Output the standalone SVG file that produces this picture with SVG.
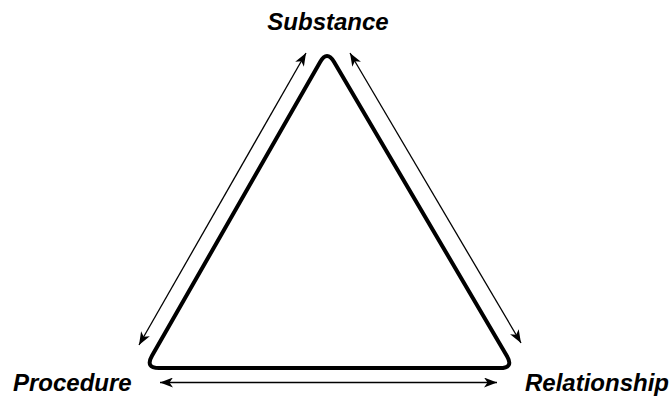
<svg xmlns="http://www.w3.org/2000/svg" width="672" height="398" viewBox="0 0 672 398">
<style>
.lbl{font-family:"Liberation Sans",Arial,sans-serif;font-weight:bold;font-style:italic;font-size:24px;fill:#000}
.arr{stroke:#000;stroke-width:1.3;fill:none;marker-start:url(#ah);marker-end:url(#ah)}
</style>
<defs>
<marker id="ah" viewBox="0 0 13 10" refX="13" refY="5" markerWidth="13" markerHeight="10" markerUnits="userSpaceOnUse" orient="auto-start-reverse">
<path d="M0,0 L13,5 L0,10 L3.5,5 Z" fill="#000"/>
</marker>
</defs>
<rect width="672" height="398" fill="#fff"/>
<g id="triangle">
<path d="M320,62.2 L152,355.8 Q145,368 159,368 L500,368 Q514,368 506.9,355.9 L334.1,62.1 Q327,50 320,62.2 Z" fill="none" stroke="#000" stroke-width="4" stroke-linejoin="round"/>
</g>
<g id="connectors">
<line class="arr" x1="139" y1="345" x2="306" y2="53"/>
<line class="arr" x1="350" y1="53" x2="521" y2="343"/>
<line class="arr" x1="160" y1="382.5" x2="497" y2="382.5"/>
</g>
<g id="substance"><text class="lbl" x="328" y="30" text-anchor="middle">Substance</text></g>
<g id="procedure"><text class="lbl" x="13" y="391">Procedure</text></g>
<g id="relationship"><text class="lbl" x="525" y="391">Relationship</text></g>
</svg>
